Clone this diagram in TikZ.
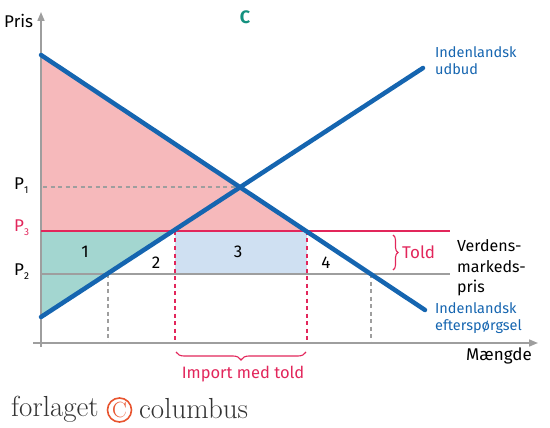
\documentclass[tikz,border=0pt]{standalone}
\usepackage{fontspec}
\newfontfamily\labelfont{Fira Sans}
\usetikzlibrary{decorations.pathreplacing,arrows.meta}
\definecolor{curveblue}{HTML}{1565B0}
\definecolor{pinkfill}{HTML}{F6B9BB}
\definecolor{tealfill}{HTML}{A3D6D0}
\definecolor{bluefill}{HTML}{CFE0F2}
\definecolor{toldred}{HTML}{E2265B}
\definecolor{axisgray}{HTML}{9E9E9E}
\definecolor{cteal}{HTML}{14917F}
\definecolor{logogray}{HTML}{333333}
\definecolor{logoorange}{HTML}{E8552F}
\newcommand{\sub}[1]{\raisebox{-0.45ex}{\fontsize{10}{10}\selectfont #1}}
\begin{document}
\begin{tikzpicture}[x=1pt,y=-1pt,
  every node/.style={font=\labelfont, inner sep=0pt},
  curve/.style={curveblue, line width=4.5pt, line cap=round},
  axisline/.style={axisgray, line width=1.6pt, -{Triangle[length=9pt,width=7pt]}},
  graydash/.style={axisgray, line width=2pt, dash pattern=on 4pt off 3.5pt},
  reddash/.style={toldred, line width=2pt, dash pattern=on 4pt off 3.5pt},
  lbl/.style={font=\labelfont\fontsize{17}{17}\selectfont},
  num/.style={font=\labelfont\fontsize{17}{17}\selectfont},
  bluelbl/.style={curveblue, align=left, anchor=north west, font=\labelfont\fontsize{14.5}{17}\selectfont},
  redbrace/.style={toldred, line width=1.1pt, decorate}
]
\useasboundingbox (0,0) rectangle (550,428);
% key points
\coordinate (D0) at (41,55);
\coordinate (D1) at (425,310);
\coordinate (S0) at (41,317);
\coordinate (S1) at (423,68);
\coordinate (E) at (240.6,187);
\coordinate (SP3) at (174,231);
\coordinate (DP3) at (307,231);
\coordinate (SP2) at (108,274);
\coordinate (DP2) at (371,274);
% fills
\fill[pinkfill] (D0) -- (DP3) -- (41,231) -- cycle;
\fill[tealfill] (41,231) -- (SP3) -- (S0) -- cycle;
\fill[bluefill] (175,231) rectangle (307,274);
% axes
\draw[axisline] (41,347) -- (41,12);
\draw[axisline] (33,343) -- (538,343);
% price lines
\draw[toldred, line width=1.6pt] (41,231) -- (450,231);
\draw[axisgray, line width=1.6pt] (41,274) -- (450,274);
% dashed guides
\draw[graydash] (43,187) -- (E);
\draw[graydash] (SP2) -- (108,343);
\draw[graydash] (DP2) -- (371,343);
\draw[reddash] (175,231) -- (175,343);
\draw[reddash] (DP3) -- (307,343);
% curves
\draw[curve] (D0) -- (D1);
\draw[curve] (S0) -- (S1);
% braces
\draw[redbrace, decoration={brace, amplitude=8pt, mirror}] (176,352) -- (306,352);
\draw[redbrace, decoration={brace, amplitude=5pt}] (393,235) -- (393,270);
% labels
\node[lbl, anchor=west] (pris) at (4,21) {Pris};
\node[cteal, font=\labelfont\bfseries\fontsize{18}{18}\selectfont] (c) at (245,17) {C};
\node[lbl, anchor=west] (p1) at (14,186) {P\sub{1}};
\node[lbl, anchor=west, toldred] (p3) at (14,228) {P\sub{3}};
\node[lbl, anchor=west] (p2) at (14,272) {P\sub{2}};
\node[num] (n1) at (85,252) {1};
\node[num] (n2) at (156,263) {2};
\node[num] (n3) at (238,252) {3};
\node[num] (n4) at (326,263) {4};
\node[bluelbl] (udbud) at (435,46) {Indenlandsk\\udbud};
\node[bluelbl] (eftersp) at (435,302) {Indenlandsk\\efterspørgsel};
\node[anchor=west, align=left, font=\labelfont\fontsize{16}{20.5}\selectfont] (verden) at (457,268) {Verdens-\\markeds-\\pris};
\node[anchor=west, toldred, font=\labelfont\fontsize{17}{17}\selectfont] (told) at (402,252) {Told};
\node[font=\labelfont\fontsize{17}{17}\selectfont, anchor=west] (maengde) at (466,356) {Mængde};
\node[toldred, font=\labelfont\fontsize{16.5}{16.5}\selectfont] (import) at (243,374) {Import med told};
% logo
\node[logogray, anchor=west, font=\rmfamily\fontsize{29}{29}\selectfont] (forlaget) at (11,409) {forlaget};
\node[logoorange, draw, circle, line width=1.6pt, minimum size=24pt, font=\rmfamily\fontsize{22}{22}\selectfont] (copy) at (119.5,410) {C};
\node[logogray, anchor=west, font=\rmfamily\fontsize{29}{29}\selectfont] (columbus) at (139,409) {columbus};
\end{tikzpicture}
\end{document}
